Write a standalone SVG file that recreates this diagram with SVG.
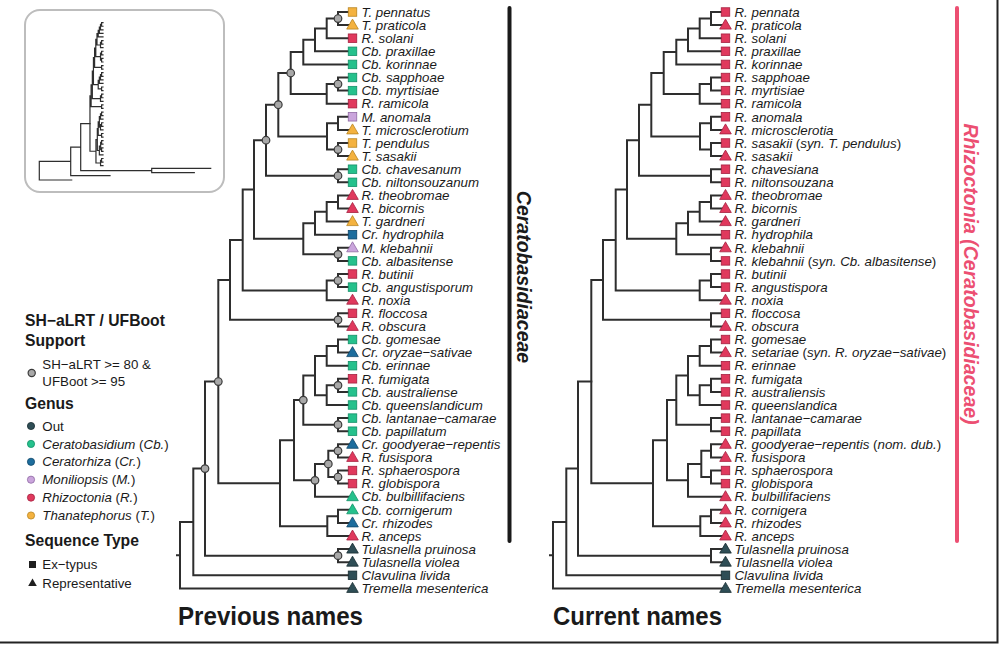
<svg xmlns="http://www.w3.org/2000/svg" xmlns:xlink="http://www.w3.org/1999/xlink" width="1000" height="645" viewBox="0 0 1000 645">
<style>
.br{fill:none;stroke:#2e2e2e;stroke-linejoin:miter;stroke-linecap:square}
.lf{font-family:"Liberation Sans",Arial,sans-serif;font-size:13.3px;font-style:italic;fill:#1a1a1a}
.up{font-style:normal}
.sup{fill:#a8a8a8;stroke:#3a3a3a;stroke-width:1.2}
.mk{stroke-width:0.8}
.cT{fill:#F4B23F;stroke:#B88420}
.cR{fill:#E0395D;stroke:#A5203F}
.cCb{fill:#25C18C;stroke:#139068}
.cCr{fill:#1D6D9D;stroke:#0F466A}
.cM{fill:#CAA5DC;stroke:#8F6AA3}
.cO{fill:#2F4E56;stroke:#172B30}
.lt{font-family:"Liberation Sans",Arial,sans-serif;font-size:15.7px;font-weight:bold;fill:#1a1a1a}
.li{font-family:"Liberation Sans",Arial,sans-serif;font-size:13.3px;fill:#1a1a1a}
.it{font-style:italic}
.ttl{font-family:"Liberation Sans",Arial,sans-serif;font-size:26px;font-weight:bold;fill:#1a1a1a}
.clade{font-family:"Liberation Sans",Arial,sans-serif;font-size:19.5px;font-weight:bold;font-style:italic}
</style>
<defs>
<rect id="sq" x="-4.25" y="-4.25" width="8.5" height="8.5"/>
<path id="tri" d="M0,-6 L5.8,4 L-5.8,4 Z"/>
<path id="cladeCer" vector-effect="non-scaling-stroke" d="M352.5 12 H338 V25.1 H352.5 M338 18.55 H326.7 V38.2 H352.5 M326.7 28.38 H315 V51.3 H352.5 M315 39.84 H303.3 V64.4 H352.5 M352.5 77.5 H338 V90.6 H352.5 M338 84.05 H326.7 V103.7 H352.5 M303.3 52.12 H290.7 V93.88 H326.7 M352.5 116.8 H338 V129.9 H352.5 M352.5 143 H338 V156.1 H352.5 M338 123.35 H327 V149.55 H338 M290.7 73 H278.3 V136.45 H327 M352.5 169.2 H338 V182.3 H352.5 M278.3 104.73 H266 V175.75 H338 M352.5 195.4 H338 V208.5 H352.5 M338 201.95 H326.7 V221.6 H352.5 M326.7 211.78 H315 V234.7 H352.5 M352.5 247.8 H338 V260.9 H352.5 M315 223.24 H303.3 V254.35 H338 M266 140.24 H254 V238.8 H303.3 M352.5 274 H338 V287.1 H352.5 M338 280.55 H326.7 V300.2 H352.5 M254 189.52 H242.7 V290.38 H326.7 M352.5 313.3 H338 V326.4 H352.5 M242.7 239.95 H230 V319.85 H338 M352.5 339.5 H338 V352.6 H352.5 M338 346.05 H326.7 V365.7 H352.5 M352.5 378.8 H338 V391.9 H352.5 M338 385.35 H326.7 V405 H352.5 M326.7 355.88 H315 V395.18 H326.7 M352.5 418.1 H338 V431.2 H352.5 M315 375.53 H303.3 V424.65 H338 M352.5 444.3 H338 V457.4 H352.5 M352.5 470.5 H338 V483.6 H352.5 M338 450.85 H328.3 V477.05 H338 M328.3 463.95 H315 V496.7 H352.5 M303.3 400.09 H294 V480.33 H315 M352.5 509.8 H338 V522.9 H352.5 M338 516.35 H327.3 V536 H352.5 M294 440.21 H280 V526.18 H327.3 M230 279.9 H218.3 V483.2 H280"/>
<path id="outer" vector-effect="non-scaling-stroke" d="M352.5 549.1 H338 V562.2 H352.5 M218.3 381.55 H205 V555.65 H338 M205 468.6 H193.3 V575.3 H352.5 M193.3 521.95 H180 V588.4 H352.5 M177 555.18 H180"/>
</defs>
<rect x="0" y="0" width="1000" height="645" fill="#ffffff"/>

<!-- inset overview tree -->
<g id="inset">
<rect x="25" y="10" width="199" height="182" rx="15" ry="15" fill="#ffffff" stroke="#bdbdbd" stroke-width="2"/>
<g class="br" stroke-width="1.2">
<use href="#cladeCer" transform="translate(68.8,19.4) scale(0.097,0.2729)"/>
<path d="M90 123.6 H80.7 V170.7 H151.7 M210.7 168.3 H151.7 V172.7 H194.3 M80.7 147.2 H70.7 V175.7 H110 M70.7 161.4 H39.3 V180 H71.7"/>
</g>
</g>

<!-- connectors -->
<g id="connectors" class="br" stroke-width="2">
<use href="#cladeCer"/>
<use href="#outer"/>
<use href="#cladeCer" transform="translate(373,0)"/>
<use href="#outer" transform="translate(373,0)"/>
</g>

<!-- support values -->
<g id="support">
<circle class="sup" cx="338" cy="18.55" r="3.8"/>
<circle class="sup" cx="338" cy="84.05" r="3.8"/>
<circle class="sup" cx="290.7" cy="73" r="3.8"/>
<circle class="sup" cx="338" cy="149.55" r="3.8"/>
<circle class="sup" cx="278.3" cy="104.73" r="3.8"/>
<circle class="sup" cx="338" cy="175.75" r="3.8"/>
<circle class="sup" cx="266" cy="140.24" r="3.8"/>
<circle class="sup" cx="338" cy="254.35" r="3.8"/>
<circle class="sup" cx="338" cy="280.55" r="3.8"/>
<circle class="sup" cx="338" cy="319.85" r="3.8"/>
<circle class="sup" cx="338" cy="385.35" r="3.8"/>
<circle class="sup" cx="338" cy="424.65" r="3.8"/>
<circle class="sup" cx="303.3" cy="400.09" r="3.8"/>
<circle class="sup" cx="338" cy="450.85" r="3.8"/>
<circle class="sup" cx="338" cy="477.05" r="3.8"/>
<circle class="sup" cx="328.3" cy="463.95" r="3.8"/>
<circle class="sup" cx="315" cy="480.33" r="3.8"/>
<circle class="sup" cx="218.3" cy="381.55" r="3.8"/>
<circle class="sup" cx="338" cy="555.65" r="3.8"/>
<circle class="sup" cx="205" cy="468.6" r="3.8"/>
</g>

<!-- left tree tips: previous names -->
<g id="prev-tips">
<g id="p00"><use href="#sq" class="mk cT" x="352.5" y="12"/><text class="lf" x="361.5" y="16.7">T. pennatus</text></g>
<g id="p01"><use href="#tri" class="mk cT" x="352.5" y="25.1"/><text class="lf" x="361.5" y="29.8">T. praticola</text></g>
<g id="p02"><use href="#sq" class="mk cR" x="352.5" y="38.2"/><text class="lf" x="361.5" y="42.9">R. solani</text></g>
<g id="p03"><use href="#sq" class="mk cCb" x="352.5" y="51.3"/><text class="lf" x="361.5" y="56">Cb. praxillae</text></g>
<g id="p04"><use href="#sq" class="mk cCb" x="352.5" y="64.4"/><text class="lf" x="361.5" y="69.1">Cb. korinnae</text></g>
<g id="p05"><use href="#sq" class="mk cCb" x="352.5" y="77.5"/><text class="lf" x="361.5" y="82.2">Cb. sapphoae</text></g>
<g id="p06"><use href="#sq" class="mk cCb" x="352.5" y="90.6"/><text class="lf" x="361.5" y="95.3">Cb. myrtisiae</text></g>
<g id="p07"><use href="#sq" class="mk cR" x="352.5" y="103.7"/><text class="lf" x="361.5" y="108.4">R. ramicola</text></g>
<g id="p08"><use href="#sq" class="mk cM" x="352.5" y="116.8"/><text class="lf" x="361.5" y="121.5">M. anomala</text></g>
<g id="p09"><use href="#tri" class="mk cT" x="352.5" y="129.9"/><text class="lf" x="361.5" y="134.6">T. microsclerotium</text></g>
<g id="p10"><use href="#sq" class="mk cT" x="352.5" y="143"/><text class="lf" x="361.5" y="147.7">T. pendulus</text></g>
<g id="p11"><use href="#tri" class="mk cT" x="352.5" y="156.1"/><text class="lf" x="361.5" y="160.8">T. sasakii</text></g>
<g id="p12"><use href="#sq" class="mk cCb" x="352.5" y="169.2"/><text class="lf" x="361.5" y="173.9">Cb. chavesanum</text></g>
<g id="p13"><use href="#sq" class="mk cCb" x="352.5" y="182.3"/><text class="lf" x="361.5" y="187">Cb. niltonsouzanum</text></g>
<g id="p14"><use href="#tri" class="mk cR" x="352.5" y="195.4"/><text class="lf" x="361.5" y="200.1">R. theobromae</text></g>
<g id="p15"><use href="#tri" class="mk cR" x="352.5" y="208.5"/><text class="lf" x="361.5" y="213.2">R. bicornis</text></g>
<g id="p16"><use href="#tri" class="mk cT" x="352.5" y="221.6"/><text class="lf" x="361.5" y="226.3">T. gardneri</text></g>
<g id="p17"><use href="#sq" class="mk cCr" x="352.5" y="234.7"/><text class="lf" x="361.5" y="239.4">Cr. hydrophila</text></g>
<g id="p18"><use href="#tri" class="mk cM" x="352.5" y="247.8"/><text class="lf" x="361.5" y="252.5">M. klebahnii</text></g>
<g id="p19"><use href="#sq" class="mk cCb" x="352.5" y="260.9"/><text class="lf" x="361.5" y="265.6">Cb. albasitense</text></g>
<g id="p20"><use href="#sq" class="mk cR" x="352.5" y="274"/><text class="lf" x="361.5" y="278.7">R. butinii</text></g>
<g id="p21"><use href="#sq" class="mk cCb" x="352.5" y="287.1"/><text class="lf" x="361.5" y="291.8">Cb. angustisporum</text></g>
<g id="p22"><use href="#tri" class="mk cR" x="352.5" y="300.2"/><text class="lf" x="361.5" y="304.9">R. noxia</text></g>
<g id="p23"><use href="#sq" class="mk cR" x="352.5" y="313.3"/><text class="lf" x="361.5" y="318">R. floccosa</text></g>
<g id="p24"><use href="#tri" class="mk cR" x="352.5" y="326.4"/><text class="lf" x="361.5" y="331.1">R. obscura</text></g>
<g id="p25"><use href="#sq" class="mk cCb" x="352.5" y="339.5"/><text class="lf" x="361.5" y="344.2">Cb. gomesae</text></g>
<g id="p26"><use href="#tri" class="mk cCr" x="352.5" y="352.6"/><text class="lf" x="361.5" y="357.3">Cr. oryzae−sativae</text></g>
<g id="p27"><use href="#sq" class="mk cCb" x="352.5" y="365.7"/><text class="lf" x="361.5" y="370.4">Cb. erinnae</text></g>
<g id="p28"><use href="#sq" class="mk cR" x="352.5" y="378.8"/><text class="lf" x="361.5" y="383.5">R. fumigata</text></g>
<g id="p29"><use href="#sq" class="mk cCb" x="352.5" y="391.9"/><text class="lf" x="361.5" y="396.6">Cb. australiense</text></g>
<g id="p30"><use href="#sq" class="mk cCb" x="352.5" y="405"/><text class="lf" x="361.5" y="409.7">Cb. queenslandicum</text></g>
<g id="p31"><use href="#sq" class="mk cCb" x="352.5" y="418.1"/><text class="lf" x="361.5" y="422.8">Cb. lantanae−camarae</text></g>
<g id="p32"><use href="#sq" class="mk cCb" x="352.5" y="431.2"/><text class="lf" x="361.5" y="435.9">Cb. papillatum</text></g>
<g id="p33"><use href="#tri" class="mk cCr" x="352.5" y="444.3"/><text class="lf" x="361.5" y="449">Cr. goodyerae−repentis</text></g>
<g id="p34"><use href="#tri" class="mk cR" x="352.5" y="457.4"/><text class="lf" x="361.5" y="462.1">R. fusispora</text></g>
<g id="p35"><use href="#sq" class="mk cR" x="352.5" y="470.5"/><text class="lf" x="361.5" y="475.2">R. sphaerospora</text></g>
<g id="p36"><use href="#sq" class="mk cR" x="352.5" y="483.6"/><text class="lf" x="361.5" y="488.3">R. globispora</text></g>
<g id="p37"><use href="#tri" class="mk cCb" x="352.5" y="496.7"/><text class="lf" x="361.5" y="501.4">Cb. bulbillifaciens</text></g>
<g id="p38"><use href="#tri" class="mk cCb" x="352.5" y="509.8"/><text class="lf" x="361.5" y="514.5">Cb. cornigerum</text></g>
<g id="p39"><use href="#tri" class="mk cCr" x="352.5" y="522.9"/><text class="lf" x="361.5" y="527.6">Cr. rhizodes</text></g>
<g id="p40"><use href="#tri" class="mk cR" x="352.5" y="536"/><text class="lf" x="361.5" y="540.7">R. anceps</text></g>
<g id="p41"><use href="#tri" class="mk cO" x="352.5" y="549.1"/><text class="lf" x="361.5" y="553.8">Tulasnella pruinosa</text></g>
<g id="p42"><use href="#tri" class="mk cO" x="352.5" y="562.2"/><text class="lf" x="361.5" y="566.9">Tulasnella violea</text></g>
<g id="p43"><use href="#sq" class="mk cO" x="352.5" y="575.3"/><text class="lf" x="361.5" y="580">Clavulina livida</text></g>
<g id="p44"><use href="#tri" class="mk cO" x="352.5" y="588.4"/><text class="lf" x="361.5" y="593.1">Tremella mesenterica</text></g>
</g>

<!-- right tree tips: current names -->
<g id="curr-tips">
<g id="c00"><use href="#sq" class="mk cR" x="725.5" y="12"/><text class="lf" x="734.5" y="16.7">R. pennata</text></g>
<g id="c01"><use href="#tri" class="mk cR" x="725.5" y="25.1"/><text class="lf" x="734.5" y="29.8">R. praticola</text></g>
<g id="c02"><use href="#sq" class="mk cR" x="725.5" y="38.2"/><text class="lf" x="734.5" y="42.9">R. solani</text></g>
<g id="c03"><use href="#sq" class="mk cR" x="725.5" y="51.3"/><text class="lf" x="734.5" y="56">R. praxillae</text></g>
<g id="c04"><use href="#sq" class="mk cR" x="725.5" y="64.4"/><text class="lf" x="734.5" y="69.1">R. korinnae</text></g>
<g id="c05"><use href="#sq" class="mk cR" x="725.5" y="77.5"/><text class="lf" x="734.5" y="82.2">R. sapphoae</text></g>
<g id="c06"><use href="#sq" class="mk cR" x="725.5" y="90.6"/><text class="lf" x="734.5" y="95.3">R. myrtisiae</text></g>
<g id="c07"><use href="#sq" class="mk cR" x="725.5" y="103.7"/><text class="lf" x="734.5" y="108.4">R. ramicola</text></g>
<g id="c08"><use href="#sq" class="mk cR" x="725.5" y="116.8"/><text class="lf" x="734.5" y="121.5">R. anomala</text></g>
<g id="c09"><use href="#tri" class="mk cR" x="725.5" y="129.9"/><text class="lf" x="734.5" y="134.6">R. microsclerotia</text></g>
<g id="c10"><use href="#sq" class="mk cR" x="725.5" y="143"/><text class="lf" x="734.5" y="147.7">R. sasakii <tspan class="up">(</tspan>syn. T. pendulus<tspan class="up">)</tspan></text></g>
<g id="c11"><use href="#tri" class="mk cR" x="725.5" y="156.1"/><text class="lf" x="734.5" y="160.8">R. sasakii</text></g>
<g id="c12"><use href="#sq" class="mk cR" x="725.5" y="169.2"/><text class="lf" x="734.5" y="173.9">R. chavesiana</text></g>
<g id="c13"><use href="#sq" class="mk cR" x="725.5" y="182.3"/><text class="lf" x="734.5" y="187">R. niltonsouzana</text></g>
<g id="c14"><use href="#tri" class="mk cR" x="725.5" y="195.4"/><text class="lf" x="734.5" y="200.1">R. theobromae</text></g>
<g id="c15"><use href="#tri" class="mk cR" x="725.5" y="208.5"/><text class="lf" x="734.5" y="213.2">R. bicornis</text></g>
<g id="c16"><use href="#tri" class="mk cR" x="725.5" y="221.6"/><text class="lf" x="734.5" y="226.3">R. gardneri</text></g>
<g id="c17"><use href="#sq" class="mk cR" x="725.5" y="234.7"/><text class="lf" x="734.5" y="239.4">R. hydrophila</text></g>
<g id="c18"><use href="#tri" class="mk cR" x="725.5" y="247.8"/><text class="lf" x="734.5" y="252.5">R. klebahnii</text></g>
<g id="c19"><use href="#sq" class="mk cR" x="725.5" y="260.9"/><text class="lf" x="734.5" y="265.6">R. klebahnii <tspan class="up">(</tspan>syn. Cb. albasitense<tspan class="up">)</tspan></text></g>
<g id="c20"><use href="#sq" class="mk cR" x="725.5" y="274"/><text class="lf" x="734.5" y="278.7">R. butinii</text></g>
<g id="c21"><use href="#sq" class="mk cR" x="725.5" y="287.1"/><text class="lf" x="734.5" y="291.8">R. angustispora</text></g>
<g id="c22"><use href="#tri" class="mk cR" x="725.5" y="300.2"/><text class="lf" x="734.5" y="304.9">R. noxia</text></g>
<g id="c23"><use href="#sq" class="mk cR" x="725.5" y="313.3"/><text class="lf" x="734.5" y="318">R. floccosa</text></g>
<g id="c24"><use href="#tri" class="mk cR" x="725.5" y="326.4"/><text class="lf" x="734.5" y="331.1">R. obscura</text></g>
<g id="c25"><use href="#sq" class="mk cR" x="725.5" y="339.5"/><text class="lf" x="734.5" y="344.2">R. gomesae</text></g>
<g id="c26"><use href="#tri" class="mk cR" x="725.5" y="352.6"/><text class="lf" x="734.5" y="357.3">R. setariae <tspan class="up">(</tspan>syn. R. oryzae−sativae<tspan class="up">)</tspan></text></g>
<g id="c27"><use href="#sq" class="mk cR" x="725.5" y="365.7"/><text class="lf" x="734.5" y="370.4">R. erinnae</text></g>
<g id="c28"><use href="#sq" class="mk cR" x="725.5" y="378.8"/><text class="lf" x="734.5" y="383.5">R. fumigata</text></g>
<g id="c29"><use href="#sq" class="mk cR" x="725.5" y="391.9"/><text class="lf" x="734.5" y="396.6">R. australiensis</text></g>
<g id="c30"><use href="#sq" class="mk cR" x="725.5" y="405"/><text class="lf" x="734.5" y="409.7">R. queenslandica</text></g>
<g id="c31"><use href="#sq" class="mk cR" x="725.5" y="418.1"/><text class="lf" x="734.5" y="422.8">R. lantanae−camarae</text></g>
<g id="c32"><use href="#sq" class="mk cR" x="725.5" y="431.2"/><text class="lf" x="734.5" y="435.9">R. papillata</text></g>
<g id="c33"><use href="#tri" class="mk cR" x="725.5" y="444.3"/><text class="lf" x="734.5" y="449">R. goodyerae−repentis <tspan class="up">(</tspan>nom. dub.<tspan class="up">)</tspan></text></g>
<g id="c34"><use href="#tri" class="mk cR" x="725.5" y="457.4"/><text class="lf" x="734.5" y="462.1">R. fusispora</text></g>
<g id="c35"><use href="#sq" class="mk cR" x="725.5" y="470.5"/><text class="lf" x="734.5" y="475.2">R. sphaerospora</text></g>
<g id="c36"><use href="#sq" class="mk cR" x="725.5" y="483.6"/><text class="lf" x="734.5" y="488.3">R. globispora</text></g>
<g id="c37"><use href="#tri" class="mk cR" x="725.5" y="496.7"/><text class="lf" x="734.5" y="501.4">R. bulbillifaciens</text></g>
<g id="c38"><use href="#tri" class="mk cR" x="725.5" y="509.8"/><text class="lf" x="734.5" y="514.5">R. cornigera</text></g>
<g id="c39"><use href="#tri" class="mk cR" x="725.5" y="522.9"/><text class="lf" x="734.5" y="527.6">R. rhizodes</text></g>
<g id="c40"><use href="#tri" class="mk cR" x="725.5" y="536"/><text class="lf" x="734.5" y="540.7">R. anceps</text></g>
<g id="c41"><use href="#tri" class="mk cO" x="725.5" y="549.1"/><text class="lf" x="734.5" y="553.8">Tulasnella pruinosa</text></g>
<g id="c42"><use href="#tri" class="mk cO" x="725.5" y="562.2"/><text class="lf" x="734.5" y="566.9">Tulasnella violea</text></g>
<g id="c43"><use href="#sq" class="mk cO" x="725.5" y="575.3"/><text class="lf" x="734.5" y="580">Clavulina livida</text></g>
<g id="c44"><use href="#tri" class="mk cO" x="725.5" y="588.4"/><text class="lf" x="734.5" y="593.1">Tremella mesenterica</text></g>
</g>

<!-- clade bars -->
<g id="clade-prev">
<line x1="509.5" y1="8" x2="509.5" y2="541" stroke="#1a1a1a" stroke-width="4" stroke-linecap="round"/>
<text class="clade" fill="#1a1a1a" text-anchor="middle" transform="translate(517,277) rotate(90)">Ceratobasidiaceae</text>
</g>
<g id="clade-curr">
<line x1="957" y1="8" x2="957" y2="541" stroke="#EC4F72" stroke-width="4" stroke-linecap="round"/>
<text class="clade" fill="#EC4F72" text-anchor="middle" transform="translate(964,274) rotate(90)">Rhizoctonia (Ceratobasidiaceae)</text>
</g>

<!-- titles -->
<text class="ttl" x="178" y="625" textLength="185" lengthAdjust="spacingAndGlyphs">Previous names</text>
<text class="ttl" x="553" y="625" textLength="169" lengthAdjust="spacingAndGlyphs">Current names</text>

<!-- legend -->
<g id="legend">
<text class="lt" x="25" y="326">SH−aLRT / UFBoot</text>
<text class="lt" x="25" y="345.5">Support</text>
<circle class="sup" cx="31.7" cy="373" r="3.6"/>
<text class="li" x="42.3" y="369">SH−aLRT &gt;= 80 &amp;</text>
<text class="li" x="42.3" y="386">UFBoot &gt;= 95</text>
<text class="lt" x="25" y="409">Genus</text>
<circle class="cO" stroke-width="0.8" cx="31" cy="426" r="3.6"/>
<text class="li" x="42.3" y="430.6">Out</text>
<circle class="cCb" stroke-width="0.8" cx="31" cy="443.9" r="3.6"/>
<text class="li" x="42.3" y="448.5"><tspan class="it">Ceratobasidium</tspan> (<tspan class="it">Cb.</tspan>)</text>
<circle class="cCr" stroke-width="0.8" cx="31" cy="461.8" r="3.6"/>
<text class="li" x="42.3" y="466.4"><tspan class="it">Ceratorhiza</tspan> (<tspan class="it">Cr.</tspan>)</text>
<circle class="cM" stroke-width="0.8" cx="31" cy="479.7" r="3.6"/>
<text class="li" x="42.3" y="484.3"><tspan class="it">Moniliopsis</tspan> (<tspan class="it">M.</tspan>)</text>
<circle class="cR" stroke-width="0.8" cx="31" cy="497.6" r="3.6"/>
<text class="li" x="42.3" y="502.2"><tspan class="it">Rhizoctonia</tspan> (<tspan class="it">R.</tspan>)</text>
<circle class="cT" stroke-width="0.8" cx="31" cy="515.5" r="3.6"/>
<text class="li" x="42.3" y="520.1"><tspan class="it">Thanatephorus</tspan> (<tspan class="it">T.</tspan>)</text>
<text class="lt" x="25" y="546">Sequence Type</text>
<rect x="29" y="561" width="7" height="7" fill="#1f1f1f"/>
<text class="li" x="42.3" y="569">Ex−typus</text>
<path d="M32.5,578.5 L36.8,586 L28.2,586 Z" fill="#1f1f1f"/>
<text class="li" x="42.3" y="587.5">Representative</text>
</g>

<!-- frame -->
<path d="M0 642.5 H997.5 V0" fill="none" stroke="#222" stroke-width="2"/>
</svg>
